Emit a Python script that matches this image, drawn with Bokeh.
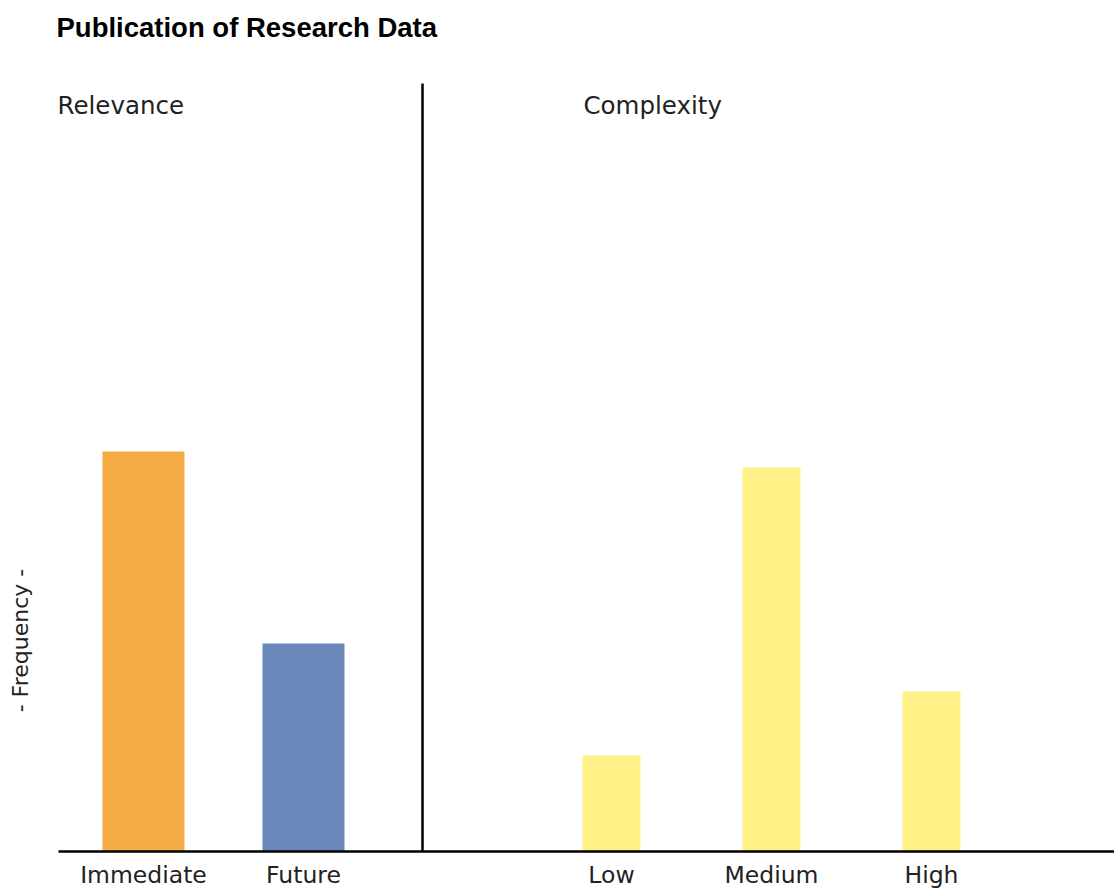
from bokeh.plotting import figure
from bokeh.models import ColumnDataSource, Label, FixedTicker, Range1d
from bokeh.embed import file_html
from bokeh.resources import INLINE
import math

# ---- data ----
title_text = "Publication of Research Data"
y_label = "- Frequency -"
group_names = ["Relevance", "Complexity"]
relevance_cats = ["Immediate", "Future"]
relevance_vals = [25, 13]
relevance_colors = ["#F4AC44", "#6987B9"]
complexity_cats = ["Low", "Medium", "High"]
complexity_vals = [6, 24, 10]
complexity_colors = ["#FFF185", "#FFF185", "#FFF185"]
y_max = 48

# ---- layout (x positions in category units, 1 unit = 160px) ----
left_x = [0.0, 1.0]
right_x = [2.925, 3.925, 4.925]
divider_x = 1.74375
left_w = 0.5125
right_w = 0.3625
x_start, x_end = -0.89375, 6.06875
axis_start = -0.53125

W, H = 1114, 891
p = figure(width=W, height=H, output_backend="svg", toolbar_location=None,
           x_range=Range1d(x_start, x_end), y_range=Range1d(-0.12, 53.19),
           min_border_left=0, min_border_right=0, min_border_top=0,
           min_border_bottom=0)
p.outline_line_color = None
p.grid.visible = False
p.background_fill_color = "white"
p.border_fill_color = "white"

src_l = ColumnDataSource(dict(x=left_x, top=relevance_vals, color=relevance_colors))
src_r = ColumnDataSource(dict(x=right_x, top=complexity_vals, color=complexity_colors))
p.vbar(x="x", top="top", bottom=0, width=left_w, color="color", line_color=None, source=src_l)
p.vbar(x="x", top="top", bottom=0, width=right_w, color="color", line_color=None, source=src_r)

# baseline and divider
p.segment(x0=[axis_start], y0=[0], x1=[x_end], y1=[0], line_color="black", line_width=2.5)
p.segment(x0=[divider_x], y0=[0], x1=[divider_x], y1=[y_max], line_color="black", line_width=2.5)

# x axis (labels only)
ticks = left_x + right_x
labels = relevance_cats + complexity_cats
p.xaxis.ticker = FixedTicker(ticks=ticks)
p.xaxis.major_label_overrides = {t: l for t, l in zip(ticks, labels)}
p.xaxis.axis_line_color = None
p.xaxis.major_tick_line_color = None
p.xaxis.major_tick_out = 0
p.xaxis.major_tick_in = 0
p.xaxis.minor_tick_line_color = None
p.xaxis.major_label_text_font = "DejaVu Sans"
p.xaxis.major_label_text_font_size = "23.5px"
p.xaxis.major_label_text_color = "#222222"
p.xaxis.major_label_standoff = 7

p.yaxis.visible = False

# title, group labels, y label
p.add_layout(Label(x=(56 - 143) / 160, y=(851 - 27) / 16, text=title_text,
                   text_font="Liberation Sans", text_font_style="bold", text_font_size="27.5px",
                   text_color="black", text_baseline="middle", text_align="left"))
p.add_layout(Label(x=(57 - 143) / 160, y=(851 - 105) / 16, text=group_names[0],
                   text_font="DejaVu Sans", text_font_size="24.5px",
                   text_color="#222222", text_baseline="middle", text_align="left"))
p.add_layout(Label(x=(583 - 143) / 160, y=(851 - 105) / 16, text=group_names[1],
                   text_font="DejaVu Sans", text_font_size="24.5px",
                   text_color="#222222", text_baseline="middle", text_align="left"))
p.add_layout(Label(x=(20 - 143) / 160, y=(851 - 640) / 16, text=y_label,
                   angle=math.pi / 2, text_font="DejaVu Sans", text_font_size="22px",
                   text_color="#222222", text_baseline="middle", text_align="center"))

open("out.html", "w").write(file_html(p, INLINE))
